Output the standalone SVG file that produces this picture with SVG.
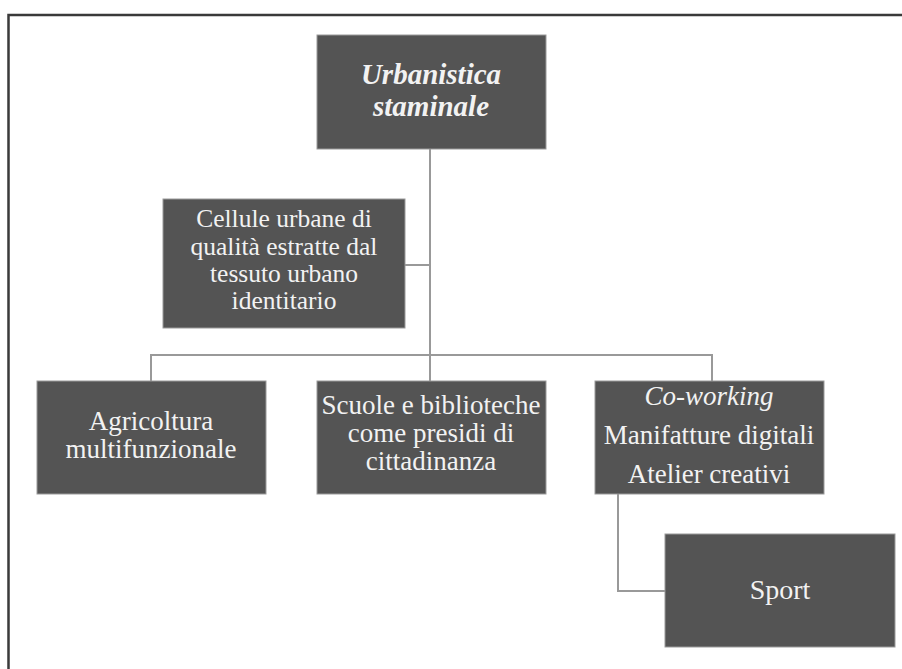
<svg xmlns="http://www.w3.org/2000/svg" width="902" height="669" viewBox="0 0 902 669">
<style>
.box{fill:#545454;stroke:#9a9a9a;stroke-width:1}
.t{font-family:"Liberation Serif","Times New Roman",serif;font-size:27px;fill:#f2f2f2;text-anchor:middle}
.ts{font-size:25.5px}
.ti{font-style:italic}
.tb{font-weight:bold;font-style:italic;font-size:29px}
.c{fill:none;stroke:#999;stroke-width:2}
.frame{fill:none;stroke:#3a3a3a;stroke-width:2.5}
</style>
<rect x="0" y="0" width="902" height="669" fill="#ffffff"/>
<path class="frame" d="M8.5,669 V15 H902"/>
<g id="connectors">
<path class="c" d="M430,149 V355"/>
<path class="c" d="M405,265 H430"/>
<path class="c" d="M151,381 V355 H712 V381"/>
<path class="c" d="M430,355 V381"/>
<path class="c" d="M618,494 V591 H665"/>
</g>
<g id="urbanistica">
<rect class="box" x="317" y="35" width="229" height="114"/>
<text class="t tb" x="431" y="84">Urbanistica</text>
<text class="t tb" x="431" y="116">staminale</text>
</g>
<g id="cellule">
<rect class="box" x="163" y="199" width="242" height="129"/>
<text class="t ts" x="284" y="227">Cellule urbane di</text>
<text class="t ts" x="284" y="255">qualità estratte dal</text>
<text class="t ts" x="284" y="282">tessuto urbano</text>
<text class="t ts" x="284" y="309">identitario</text>
</g>
<g id="agricoltura">
<rect class="box" x="37" y="381" width="229" height="113"/>
<text class="t" x="151" y="430">Agricoltura</text>
<text class="t" x="151" y="458">multifunzionale</text>
</g>
<g id="scuole">
<rect class="box" x="317" y="381" width="229" height="113"/>
<text class="t" x="431" y="414">Scuole e biblioteche</text>
<text class="t" x="431" y="442">come presidi di</text>
<text class="t" x="431" y="470">cittadinanza</text>
</g>
<g id="coworking">
<rect class="box" x="595" y="381" width="229" height="113"/>
<text class="t ti" x="709" y="405">Co-working</text>
<text class="t" x="709" y="444">Manifatture digitali</text>
<text class="t" x="709" y="483">Atelier creativi</text>
</g>
<g id="sport">
<rect class="box" x="665" y="534" width="230" height="113"/>
<text class="t" x="780" y="599" style="font-size:28px">Sport</text>
</g>
</svg>
